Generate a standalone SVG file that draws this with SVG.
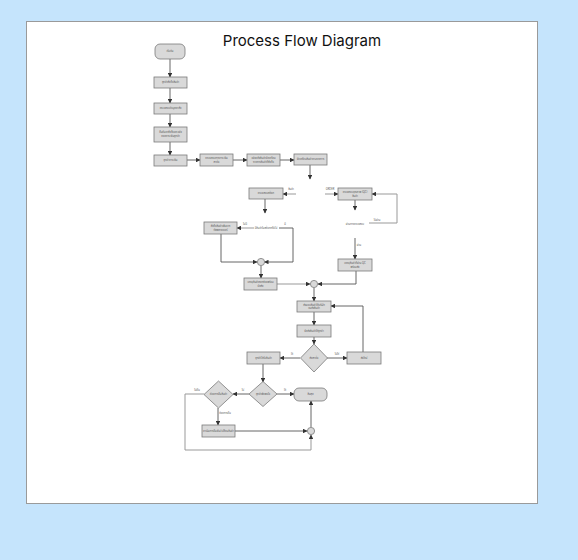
<svg xmlns="http://www.w3.org/2000/svg" width="578" height="560" viewBox="0 0 578 560">
<style>
.bg{fill:#c5e4fc}
.panel{fill:#ffffff;stroke:#9a9a9a;stroke-width:1}
.title{font-family:Inter,"Liberation Sans",sans-serif;font-size:15px;fill:#111}
.box{fill:#d9d9d9;stroke:#7a7a7a;stroke-width:0.8}
.t{font-family:"Noto Sans Thai","Noto Sans","DejaVu Sans",sans-serif;font-size:2.6px;fill:#555;text-anchor:middle;dominant-baseline:middle}
.lbl{font-family:"Noto Sans Thai","Noto Sans","DejaVu Sans",sans-serif;font-size:2.6px;fill:#555;text-anchor:middle}
.c{fill:none;stroke:#555;stroke-width:0.9}
.cl{fill:none;stroke:#999;stroke-width:1}
</style>
<defs>
<marker id="ah" markerWidth="4.5" markerHeight="4.5" refX="4" refY="2.25" orient="auto" markerUnits="userSpaceOnUse">
<path d="M0,0 L4.5,2.25 L0,4.5 z" fill="#333"/>
</marker>
</defs>
<rect class="bg" x="0" y="0" width="578" height="560"/>
<rect class="panel" x="26.5" y="21.5" width="511" height="482"/>
<text class="title" x="302" y="46" text-anchor="middle">Process Flow Diagram</text>

<g id="connectors">
<path class="c" d="M170,59 V77" marker-end="url(#ah)"/>
<path class="c" d="M170,88 V103" marker-end="url(#ah)"/>
<path class="c" d="M170,114 V127" marker-end="url(#ah)"/>
<path class="c" d="M170,142 V155" marker-end="url(#ah)"/>
<path class="c" d="M187,160 H200" marker-end="url(#ah)"/>
<path class="c" d="M233,160 H247" marker-end="url(#ah)"/>
<path class="c" d="M280,160 H294" marker-end="url(#ah)"/>
<path class="c" d="M310,165 V179" marker-end="url(#ah)"/>
<path class="cl" d="M296,194 H283" marker-end="url(#ah)"/>
<text class="lbl" x="291" y="190">สินค้า</text>
<path class="c" d="M265,199 V213" marker-end="url(#ah)"/>
<path class="cl" d="M325,194 H338" marker-end="url(#ah)"/>
<text class="lbl" x="330" y="190">ORDER</text>
<path class="c" d="M355,200 V210" marker-end="url(#ah)"/>
<path class="cl" d="M369,223 H397 V194 H372" marker-end="url(#ah)"/>
<text class="lbl" x="377" y="221">ไม่ผ่าน</text>
<path class="cl" d="M254,228 H237" marker-end="url(#ah)"/>
<text class="lbl" x="245" y="225">ไม่มี</text>
<path class="c" d="M279,228 H293 V262 H264.5" marker-end="url(#ah)"/>
<text class="lbl" x="285" y="225">มี</text>
<path class="c" d="M221,234 V262 H257" marker-end="url(#ah)"/>
<path class="c" d="M261,266 V278" marker-end="url(#ah)"/>
<path class="cl" d="M277,284 H310" marker-end="url(#ah)"/>
<path class="c" d="M355,238 V259" marker-end="url(#ah)"/>
<text class="lbl" x="359" y="246">ผ่าน</text>
<path class="c" d="M356,271 V284 H318" marker-end="url(#ah)"/>
<path class="c" d="M314,288 V301" marker-end="url(#ah)"/>
<path class="c" d="M314,312 V325" marker-end="url(#ah)"/>
<path class="c" d="M314,337 V344" marker-end="url(#ah)"/>
<path class="c" d="M300,358 H280" marker-end="url(#ah)"/>
<text class="lbl" x="292" y="355">ใช่</text>
<path class="c" d="M327,358 H347" marker-end="url(#ah)"/>
<text class="lbl" x="337" y="355">ไม่ใช่</text>
<path class="c" d="M363,352 V306 H331" marker-end="url(#ah)"/>
<path class="c" d="M263,364 V382" marker-end="url(#ah)"/>
<path class="c" d="M277,394 H294" marker-end="url(#ah)"/>
<text class="lbl" x="285" y="391">ใช่</text>
<path class="c" d="M249,394 H233" marker-end="url(#ah)"/>
<text class="lbl" x="243" y="391">ไม่</text>
<path class="c" d="M218,408 V425" marker-end="url(#ah)"/>
<text class="lbl" x="225" y="414">ต้องการคืน</text>
<path class="c" d="M235,431 H307" marker-end="url(#ah)"/>
<path class="cl" d="M204,394 H185 V450 H311 V435" marker-end="url(#ah)"/>
<text class="lbl" x="197" y="391">ไม่คืน</text>
<path class="c" d="M311,427 V401" marker-end="url(#ah)"/>
</g>

<g id="start"><rect class="box" x="155" y="44" width="30" height="15" rx="5"/><text class="t" x="170" y="51.5">เริ่มต้น</text></g>
<g id="n1"><rect class="box" x="154" y="77" width="33" height="11"/><text class="t" x="170.5" y="82.5">ลูกค้าสั่งซื้อสินค้า</text></g>
<g id="n2"><rect class="box" x="154" y="103" width="33" height="11"/><text class="t" x="170.5" y="108.5">ตรวจสอบข้อมูลคำสั่ง</text></g>
<g id="n3"><rect class="box" x="154" y="127" width="33" height="15"/><text class="t" x="170.5" y="132.5">ยืนยันคำสั่งซื้อและแจ้ง</text><text class="t" x="170.5" y="136.5">ยอดชำระเงินลูกค้า</text></g>
<g id="n4"><rect class="box" x="154" y="155" width="33" height="11"/><text class="t" x="170.5" y="160.5">ลูกค้าชำระเงิน</text></g>
<g id="n5"><rect class="box" x="200" y="154" width="33" height="12"/><text class="t" x="216.5" y="158.5">ตรวจสอบการชำระเงิน</text><text class="t" x="216.5" y="162">สำเร็จ</text></g>
<g id="n6"><rect class="box" x="247" y="154" width="33" height="12"/><text class="t" x="263.5" y="158.5">แจ้งคลังสินค้าจัดเตรียม</text><text class="t" x="263.5" y="162">รายการสินค้าที่สั่งซื้อ</text></g>
<g id="n7"><rect class="box" x="294" y="154" width="33" height="11"/><text class="t" x="310.5" y="159.5">จัดเตรียมสินค้าตามรายการ</text></g>
<g id="n8"><rect class="box" x="249" y="188" width="34" height="11"/><text class="t" x="266" y="193.5">ตรวจสอบสต็อก</text></g>
<g id="n9"><rect class="box" x="338" y="188" width="34" height="12"/><text class="t" x="355" y="192.5">ตรวจสอบคุณภาพ (QC)</text><text class="t" x="355" y="196">สินค้า</text></g>
<g id="n9r"><text class="t" x="355" y="224">ผ่านการตรวจสอบ</text></g>
<g id="d0"><text class="t" x="266" y="228">มีสินค้าในสต็อกหรือไม่</text></g>
<g id="n10"><rect class="box" x="204" y="222" width="33" height="12"/><text class="t" x="220.5" y="226.5">สั่งซื้อสินค้าเพิ่มจาก</text><text class="t" x="220.5" y="230">ซัพพลายเออร์</text></g>
<g id="m1"><circle cx="261" cy="262" r="3.6" fill="#d9d9d9" stroke="#7a7a7a" stroke-width="0.8"/></g>
<g id="n11"><rect class="box" x="244" y="278" width="33" height="12"/><text class="t" x="260.5" y="282.5">บรรจุสินค้าลงกล่องพร้อม</text><text class="t" x="260.5" y="286">จัดส่ง</text></g>
<g id="n12"><rect class="box" x="338" y="259" width="34" height="12"/><text class="t" x="355" y="263.5">บรรจุสินค้าที่ผ่าน QC</text><text class="t" x="355" y="267">พร้อมส่ง</text></g>
<g id="m2"><circle cx="314" cy="284" r="3.6" fill="#d9d9d9" stroke="#7a7a7a" stroke-width="0.8"/></g>
<g id="n13"><rect class="box" x="297" y="301" width="34" height="11"/><text class="t" x="314" y="305">ส่งมอบสินค้าให้บริษัท</text><text class="t" x="314" y="308.5">ขนส่งสินค้า</text></g>
<g id="n14"><rect class="box" x="297" y="325" width="34" height="12"/><text class="t" x="314" y="331">จัดส่งสินค้าให้ลูกค้า</text></g>
<g id="d1"><polygon class="box" points="314,344 327.5,358 314,372 300.5,358"/><text class="t" x="314" y="358">ส่งสำเร็จ</text></g>
<g id="n15"><rect class="box" x="247" y="352" width="33" height="12"/><text class="t" x="263.5" y="358">ลูกค้าได้รับสินค้า</text></g>
<g id="n16"><rect class="box" x="347" y="352" width="34" height="12"/><text class="t" x="364" y="358">ส่งใหม่</text></g>
<g id="d2"><polygon class="box" points="263,381.5 277,394 263,406.5 249,394"/><text class="t" x="263" y="394">ลูกค้าพึงพอใจ</text></g>
<g id="end"><rect class="box" x="294" y="388" width="33" height="13" rx="5"/><text class="t" x="310.5" y="394.5">สิ้นสุด</text></g>
<g id="d3"><polygon class="box" points="218.5,381 233,394.5 218.5,408 204,394.5"/><text class="t" x="218.5" y="394.5">ต้องการคืนสินค้า</text></g>
<g id="n18"><rect class="box" x="202" y="425" width="33" height="12"/><text class="t" x="218.5" y="431">ดำเนินการคืนเงิน/เปลี่ยนสินค้า</text></g>
<g id="m3"><circle cx="311" cy="431" r="3.6" fill="#d9d9d9" stroke="#7a7a7a" stroke-width="0.8"/></g>
</svg>
